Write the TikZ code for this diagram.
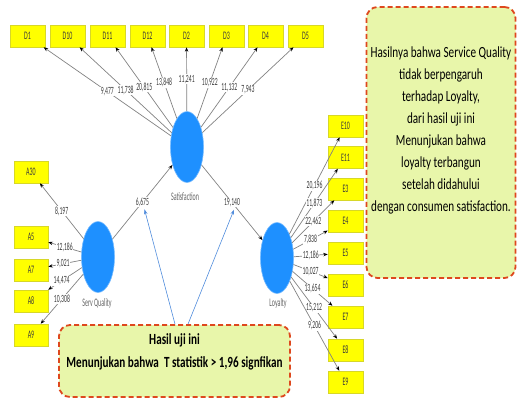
\documentclass[tikz,border=0pt]{standalone}
\usepackage{fontspec}
\setmainfont{Carlito}
\newfontfamily\narrowfont[FakeStretch=0.52]{Carlito}
\newfontfamily\calloutfont[FakeStretch=0.72]{Carlito}
\usetikzlibrary{arrows.meta,shapes.geometric,calc}

\definecolor{latent}{RGB}{30,144,255}
\definecolor{indfill}{RGB}{255,255,0}
\definecolor{inddraw}{RGB}{215,215,40}
\definecolor{edgegray}{RGB}{130,130,130}
\definecolor{txtgray}{RGB}{60,60,60}
\definecolor{notefill}{RGB}{232,246,170}
\definecolor{notedraw}{RGB}{222,72,30}
\definecolor{pointer}{RGB}{80,140,220}

\tikzset{
  latentvar/.style={ellipse, fill=latent, draw=latent!60!white, line width=0.6pt,
    minimum width=33pt, minimum height=71pt, inner sep=0pt},
  indicator/.style={rectangle, fill=indfill, draw=inddraw, line width=0.5pt,
    minimum width=35pt, minimum height=22pt, inner sep=0pt,
    font=\narrowfont\fontsize{11.5}{11.5}\selectfont, text=txtgray},
  latname/.style={font=\narrowfont\fontsize{11.5}{11.5}\selectfont, text=txtgray!80!white},
  loading/.style={draw=edgegray, line width=0.7pt,
    -{Stealth[length=4.5pt,width=3.5pt,color=black]}},
  coef/.style={fill=white, inner sep=0.6pt, text=txtgray,
    font=\narrowfont\fontsize{11}{11}\selectfont},
  notebox/.style={rectangle, rounded corners=11pt, fill=notefill, draw=notedraw,
    line width=1.8pt, dash pattern=on 5pt off 3pt, inner sep=0pt},
  notetext/.style={align=center, text=black,
    font=\calloutfont\fontsize{15.5}{22}\selectfont},
  pointerline/.style={draw=pointer, line width=0.6pt,
    -{Stealth[length=5pt,width=3.5pt,color=pointer]}}
}

\begin{document}
\begin{tikzpicture}[x=1pt,y=-1pt]
\useasboundingbox (0,0) rectangle (517,399);

% latent variables
\node[latentvar] (sat) at (187,147) {};
\node[latentvar] (sq)  at (98,257) {};
\node[latentvar] (loy) at (277,258) {};
\node[latname] (satname) at (185,197) {Satisfaction};
\node[latname] (sqname)  at (97,303) {Serv Quality};
\node[latname] (loyname) at (278,303) {Loyalty};

% indicators of Satisfaction
\foreach \n/\x in {D1/27.5, D10/67.5, D11/107.5, D12/147.5, D2/186.5, D3/226.5, D4/265.5, D5/305.5}
  \node[indicator] (\n) at (\x,36) {\n};

% indicators of Serv Quality
\foreach \n/\y in {A30/172, A5/237, A7/270, A8/301, A9/335}
  \node[indicator, minimum width=34pt] (\n) at (31,\y) {\n};

% indicators of Loyalty
\foreach \n/\y in {E10/126, E11/157.5, E3/189, E4/221, E5/253, E6/285, E7/317, E8/350, E9/382}
  \node[indicator] (\n) at (345.5,\y) {\n};

% outer loadings (t statistics)
\foreach \n/\v in {D1/9{,}477, D10/11{,}738, D11/20{,}815, D12/13{,}848, D2/11{,}241, D3/10{,}922, D4/11{,}132, D5/7{,}943}
  \draw[loading] (sat) -- node[coef, pos=0.5] {\v} (\n);

\foreach \n/\v/\p in {A30/8{,}197/0.5, A5/12{,}186/0.5, A7/9{,}021/0.55, A8/14{,}474/0.6, A9/10{,}308/0.5}
  \draw[loading] (sq) -- node[coef, pos=\p] {\v} (\n);

\foreach \n/\v in {E10/20{,}196, E11/11{,}873, E3/22{,}462, E4/7{,}838, E5/12{,}186, E6/10{,}027, E7/13{,}654, E8/15{,}212, E9/9{,}206}
  \draw[loading] (loy) -- node[coef, pos=0.5] {\v} (\n);

% inner model
\draw[loading] (sq) -- node[coef, pos=0.5] (tsq) {6,675} (sat);
\draw[loading] (sat) -- node[coef, pos=0.5] (tsat) {19,140} (loy);

% notes
\node[notebox, minimum width=149pt, minimum height=271pt] (rnote) at (441,142.5) {};
\node[notetext] (rtext) at ($(rnote.center)+(0,-12)$) {%
  Hasilnya bahwa Service Quality\\
  tidak berpengaruh\\
  terhadap Loyalty,\\
  dari hasil uji ini\\
  Menunjukan bahwa\\
  loyalty terbangun\\
  setelah didahului\\
  dengan consumen satisfaction.};

\node[notebox, minimum width=231pt, minimum height=72pt] (bnote) at (174.5,361) {};
\node[notetext, font=\calloutfont\bfseries\fontsize{15.5}{23}\selectfont] (btext)
  at ($(bnote.center)+(0,-9.5)$) {%
  Hasil uji ini\\
  Menunjukan bahwa\ \ T statistik > 1,96 signfikan};

% pointers from the note to the path coefficients
\coordinate (p1) at ($(bnote.north)+(0.5,0)$);
\coordinate (p2) at ($(bnote.north)+(13.5,0)$);
\draw[pointerline] (p1) -- ($(tsq.south)+(2,2)$);
\draw[pointerline] (p2) -- ($(tsat.south)+(2,2)$);
\end{tikzpicture}
\end{document}
